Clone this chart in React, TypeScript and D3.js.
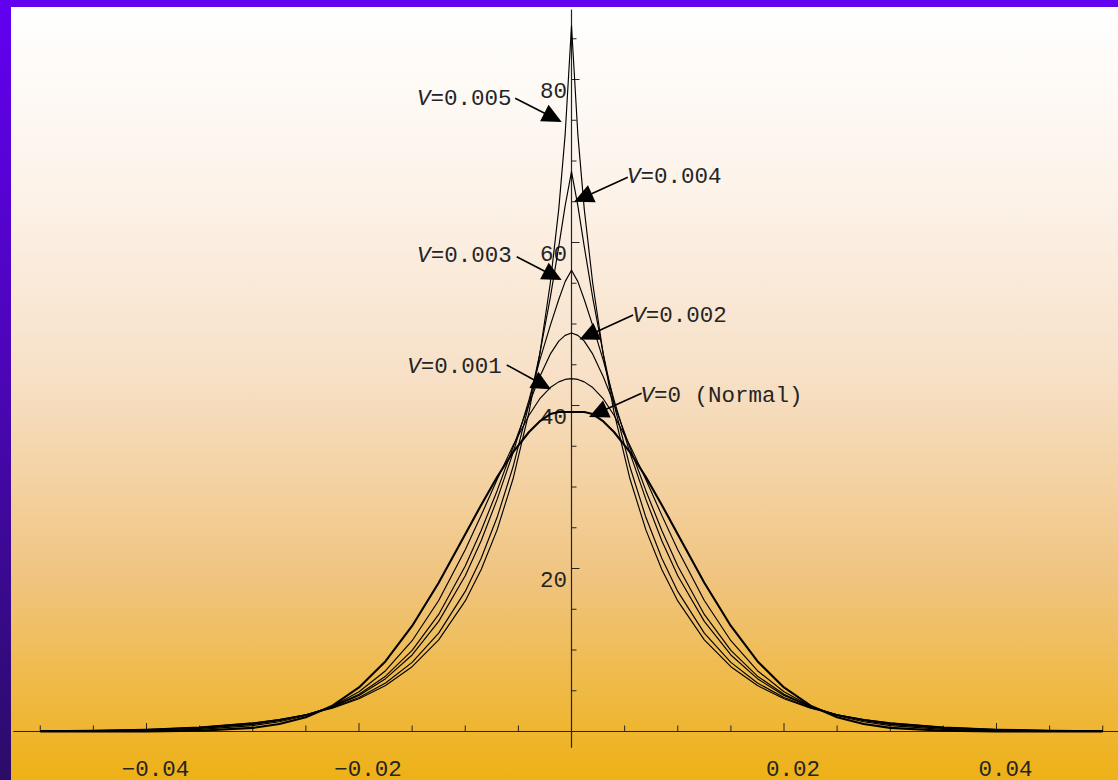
import React from "react";
import * as d3 from "d3";

// Sample positions shared by every density curve (returns, as fractions)
const xs = [
  -0.05, -0.045, -0.04, -0.035, -0.03, -0.0275, -0.025, -0.0225, -0.02, -0.0175,
  -0.015, -0.0125, -0.01, -0.0085, -0.007, -0.0055, -0.004, -0.003, -0.002, -0.0012,
  -0.0006, 0, 0.0006, 0.0012, 0.002, 0.003, 0.004, 0.0055, 0.007, 0.0085, 0.01,
  0.0125, 0.015, 0.0175, 0.02, 0.0225, 0.025, 0.0275, 0.03, 0.035, 0.04, 0.045, 0.05,
];

// Densities for each volatility-variance level V
const vNormal = [
  0.0001, 0.0016, 0.013, 0.087, 0.44, 0.91, 1.75, 3.17, 5.4, 8.63, 12.95, 18.26, 24.2,
  27.8, 31.22, 34.29, 36.75, 38.05, 38.95, 39.2, 39.2, 39.2, 39.2, 39.2, 38.95, 38.05,
  36.75, 34.29, 31.22, 27.8, 24.2, 18.26, 12.95, 8.63, 5.4, 3.17, 1.75, 0.91, 0.44,
  0.087, 0.013, 0.0016, 0.0001,
];
const v001 = [
  0.009, 0.028, 0.086, 0.254, 0.72, 1.19, 1.94, 3.1, 4.87, 7.46, 11.14, 16.08, 22.3,
  26.52, 30.92, 35.1, 38.8, 40.8, 42.2, 42.9, 43.2, 43.3, 43.2, 42.9, 42.2, 40.8, 38.8,
  35.1, 30.92, 26.52, 22.3, 16.08, 11.14, 7.46, 4.87, 3.1, 1.94, 1.19, 0.72, 0.254,
  0.086, 0.028, 0.009,
];
const v002 = [
  0.025, 0.062, 0.151, 0.365, 0.868, 1.33, 2.02, 3.05, 4.58, 6.79, 9.96, 14.36, 20.3,
  24.66, 29.55, 34.85, 40.2, 43.5, 46.3, 47.9, 48.6, 48.9, 48.6, 47.9, 46.3, 43.5, 40.2,
  34.85, 29.55, 24.66, 20.3, 14.36, 9.96, 6.79, 4.58, 3.05, 2.02, 1.33, 0.868, 0.365,
  0.151, 0.062, 0.025,
];
const v003 = [
  0.037, 0.083, 0.187, 0.42, 0.93, 1.38, 2.05, 3.02, 4.43, 6.48, 9.39, 13.51, 19.11,
  23.41, 28.48, 34.19, 40.7, 45.5, 49.8, 53.0, 55.2, 56.6, 55.2, 53.0, 49.8, 45.5, 40.7,
  34.19, 28.48, 23.41, 19.11, 13.51, 9.39, 6.48, 4.43, 3.02, 2.05, 1.38, 0.93, 0.42,
  0.187, 0.083, 0.037,
];
const v004 = [
  0.06, 0.122, 0.247, 0.5, 1.02, 1.45, 2.06, 2.93, 4.18, 5.95, 8.48, 12.07, 17.19,
  21.26, 26.28, 32.48, 40.16, 46.26, 53.2, 59.5, 64.5, 68.7, 64.5, 59.5, 53.2, 46.26,
  40.16, 32.48, 26.28, 21.26, 17.19, 12.07, 8.48, 5.95, 4.18, 2.93, 2.06, 1.45, 1.02,
  0.5, 0.247, 0.122, 0.06,
];
const v005 = [
  0.076, 0.147, 0.282, 0.545, 1.055, 1.47, 2.05, 2.87, 4.01, 5.64, 7.95, 11.25, 16.02,
  19.87, 24.74, 31.01, 39.2, 46.17, 54.97, 64.09, 73.2, 86.6, 73.2, 64.09, 54.97, 46.17,
  39.2, 31.01, 24.74, 19.87, 16.02, 11.25, 7.95, 5.64, 4.01, 2.87, 2.05, 1.47, 1.055,
  0.545, 0.282, 0.147, 0.076,
];

// Axis ticks
const xMajorTicks = [-0.04, -0.02, 0.02, 0.04];
const xTickLabels = ["\u22120.04", "\u22120.02", "0.02", "0.04"];
const xMinorTicks = [
  -0.05, -0.045, -0.035, -0.03, -0.025, -0.015, -0.01, -0.005, 0.005, 0.01, 0.015,
  0.025, 0.03, 0.035, 0.045, 0.05,
];
const yMajorTicks = [20, 40, 60, 80];
const yTickLabels = ["20", "40", "60", "80"];
const yMinorTicks = [5, 10, 15, 25, 30, 35, 45, 50, 55, 65, 70, 75, 85];

// Curve annotations: label suffix after the italic V, text anchor, arrow start, arrow tip
const noteSuffix = ["=0.005", "=0.004", "=0.003", "=0.002", "=0.001", "=0 (Normal)"];
const noteText: [number, number][] = [
  [-0.01455, 76.9],
  [0.00522, 67.3],
  [-0.01453, 57.6],
  [0.00572, 50.3],
  [-0.01546, 43.95],
  [0.0065, 40.47],
];
const noteFrom: [number, number][] = [
  [-0.0053, 77.7],
  [0.0053, 68.0],
  [-0.00516, 58.25],
  [0.0058, 51.1],
  [-0.0061, 44.97],
  [0.0066, 41.5],
];
const noteTip: [number, number][] = [
  [-0.00092, 74.8],
  [0.00024, 65.0],
  [-0.00092, 55.4],
  [0.00075, 48.1],
  [-0.00193, 42.0],
  [0.00165, 38.6],
];

const series = [
  { key: "normal", values: vNormal, width: 2.1 },
  { key: "v001", values: v001, width: 1.15 },
  { key: "v002", values: v002, width: 1.15 },
  { key: "v003", values: v003, width: 1.15 },
  { key: "v004", values: v004, width: 1.15 },
  { key: "v005", values: v005, width: 1.15 },
];

const W = 1118;
const H = 780;
const FONT = "'Liberation Mono', 'Courier New', 'DejaVu Sans Mono', monospace";
const FONT_SIZE = 22.5;
const INK = "#242424";

export default function App() {
  const x = d3.scaleLinear().domain([-0.05, 0.05]).range([40.25, 1102.75]);
  const y = d3.scaleLinear().domain([0, 80]).range([731.5, 79.5]);

  const line = d3
    .line<number>()
    .x((_, i) => x(xs[i]))
    .y((d) => y(d));

  const arrowHead = (from: [number, number], tip: [number, number]) => {
    const sx = x(from[0]);
    const sy = y(from[1]);
    const tx = x(tip[0]);
    const ty = y(tip[1]);
    const len = Math.hypot(tx - sx, ty - sy);
    const dx = (tx - sx) / len;
    const dy = (ty - sy) / len;
    const L = 19.5;
    const Hw = 9.3;
    const bx = tx - L * dx;
    const by = ty - L * dy;
    return {
      line: [sx, sy, bx + dx * 2, by + dy * 2],
      pts: `${tx},${ty} ${bx - Hw * dy},${by + Hw * dx} ${bx + Hw * dy},${by - Hw * dx}`,
    };
  };

  const axisY0 = y(0);
  const axisX0 = x(0);

  return (
    <div style={{ position: "fixed", left: 0, top: 0, width: W, height: H }}>
      <svg width={W} height={H} style={{ display: "block" }}>
        <defs>
          <linearGradient id="frame" x1="0" y1="0" x2="0" y2="1">
            <stop offset="0" stopColor="#6200f0" />
            <stop offset="0.5" stopColor="#4a06b4" />
            <stop offset="1" stopColor="#2a0c68" />
          </linearGradient>
          <linearGradient id="panel" x1="0" y1="0" x2="0" y2="1">
            <stop offset="0" stopColor="#ffffff" />
            <stop offset="0.25" stopColor="#fcf2e8" />
            <stop offset="0.48" stopColor="#f7e0c6" />
            <stop offset="0.74" stopColor="#f0c47f" />
            <stop offset="1" stopColor="#eeb116" />
          </linearGradient>
        </defs>

        <rect x={0} y={0} width={W} height={H} fill="url(#frame)" />
        <rect x={11} y={7} width={W - 11} height={H - 7} fill="url(#panel)" />

        {/* axes */}
        <line
          x1={x(-0.05254)}
          x2={W}
          y1={axisY0}
          y2={axisY0}
          stroke={INK}
          strokeWidth={1.2}
        />
        <line
          x1={axisX0}
          x2={axisX0}
          y1={y(-2)}
          y2={y(88.6)}
          stroke={INK}
          strokeWidth={1.2}
        />

        {xMinorTicks.map((t) => (
          <line
            key={`xm${t}`}
            x1={x(t)}
            x2={x(t)}
            y1={axisY0}
            y2={axisY0 - 6}
            stroke={INK}
            strokeWidth={1}
          />
        ))}
        {xMajorTicks.map((t) => (
          <line
            key={`xM${t}`}
            x1={x(t)}
            x2={x(t)}
            y1={axisY0}
            y2={axisY0 - 8.5}
            stroke={INK}
            strokeWidth={1}
          />
        ))}
        {xMajorTicks.map((t, i) => (
          <text
            key={`xl${t}`}
            x={x(t) + 9}
            y={axisY0 + 44}
            textAnchor="middle"
            fontFamily={FONT}
            fontSize={FONT_SIZE}
            fill={INK}
          >
            {xTickLabels[i]}
          </text>
        ))}

        {yMinorTicks.map((t) => (
          <line
            key={`ym${t}`}
            x1={axisX0}
            x2={axisX0 + 5}
            y1={y(t)}
            y2={y(t)}
            stroke={INK}
            strokeWidth={1}
          />
        ))}
        {yMajorTicks.map((t) => (
          <line
            key={`yM${t}`}
            x1={axisX0}
            x2={axisX0 + 8}
            y1={y(t)}
            y2={y(t)}
            stroke={INK}
            strokeWidth={1}
          />
        ))}
        {yMajorTicks.map((t, i) => (
          <text
            key={`yl${t}`}
            x={axisX0 - 4.5}
            y={y(t) + 18.5}
            textAnchor="end"
            fontFamily={FONT}
            fontSize={FONT_SIZE}
            fill={INK}
          >
            {yTickLabels[i]}
          </text>
        ))}

        {/* density curves */}
        {series.map((s) => (
          <path
            key={s.key}
            d={line(s.values) || ""}
            fill="none"
            stroke="#000"
            strokeWidth={s.width}
            strokeLinejoin="round"
          />
        ))}

        {/* annotations */}
        {noteSuffix.map((suffix, i) => {
          const a = arrowHead(noteFrom[i], noteTip[i]);
          return (
            <g key={`n${i}`}>
              <line
                x1={a.line[0]}
                y1={a.line[1]}
                x2={a.line[2]}
                y2={a.line[3]}
                stroke="#000"
                strokeWidth={1.6}
              />
              <polygon points={a.pts} fill="#000" />
              <text
                x={x(noteText[i][0])}
                y={y(noteText[i][1])}
                fontFamily={FONT}
                fontSize={FONT_SIZE}
                fill={INK}
              >
                <tspan fontStyle="italic">V</tspan>
                {suffix}
              </text>
            </g>
          );
        })}
      </svg>
    </div>
  );
}
